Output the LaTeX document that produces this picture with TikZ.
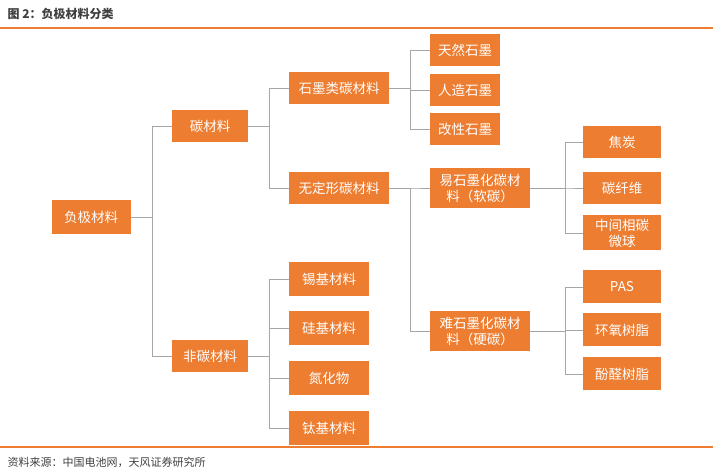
\documentclass[tikz,border=0pt]{standalone}
\usepackage{fontspec}
\setmainfont{Noto Sans CJK SC}
\begin{document}
\begin{tikzpicture}[x=1pt,y=-1pt,
 box/.style={fill=orgC,draw=none,text=white,font=\fontsize{13.5}{16}\selectfont,inner sep=0pt,align=center},
 conn/.style={draw=lineC,line width=0.9pt}]
\definecolor{orgC}{HTML}{ED7D31}
\definecolor{lineC}{HTML}{A6A6A6}
\definecolor{txtC}{HTML}{404040}
\useasboundingbox (0,0) rectangle (713,473);
\node[anchor=west,text=txtC,font=\bfseries\fontsize{12}{14}\selectfont] (title) at (4,14) {图 2：负极材料分类};
\draw[orgC,line width=1.2pt] (0,28) -- (713,28);
\draw[orgC,line width=1.2pt] (0,447) -- (713,447);
\node[anchor=west,text=txtC,font=\fontsize{11}{13}\selectfont] (src) at (4,462) {资料来源：中国电池网，天风证券研究所};
\newcommand{\bx}[6]{\node[box,minimum width=#4,minimum height=#5] (#1) at (#2,#3) {#6};}
\bx{root}{91}{217}{79}{34}{负极材料}
\bx{c}{210}{126}{76}{32}{碳材料}
\bx{nc}{210}{356}{76}{32}{非碳材料}
\bx{g}{339}{88}{100}{32}{石墨类碳材料}
\bx{a}{339}{188}{100}{32}{无定形碳材料}
\bx{g1}{465}{50}{70}{32}{天然石墨}
\bx{g2}{465}{90}{70}{32}{人造石墨}
\bx{g3}{465}{129}{70}{32}{改性石墨}
\bx{s}{480}{188}{100}{40}{易石墨化碳材\\料（软碳）}
\bx{h}{480}{331}{100}{40}{难石墨化碳材\\料（硬碳）}
\bx{s1}{622}{142}{78}{32}{焦炭}
\bx{s2}{622}{188}{78}{32}{碳纤维}
\bx{s3}{622}{233}{78}{35}{中间相碳\\微球}
\bx{h1}{622}{287}{78}{33}{PAS}
\bx{h2}{622}{330}{78}{33}{环氧树脂}
\bx{h3}{622}{374}{78}{33}{酚醛树脂}
\bx{n1}{329}{279}{80}{34}{锡基材料}
\bx{n2}{329}{328}{80}{34}{硅基材料}
\bx{n3}{329}{378}{80}{34}{氮化物}
\bx{n4}{329}{428}{80}{34}{钛基材料}
\coordinate (b1) at (152,0);
\coordinate (b2) at (269,0);
\coordinate (b3) at (410,0);
\coordinate (b4) at (565,0);
\foreach \p/\k/\b in {root/c/b1,root/nc/b1,c/g/b2,c/a/b2,nc/n1/b2,nc/n2/b2,nc/n3/b2,nc/n4/b2,g/g1/b3,g/g2/b3,g/g3/b3,a/s/b3,a/h/b3,s/s1/b4,s/s2/b4,s/s3/b4,h/h1/b4,h/h2/b4,h/h3/b4}
  \draw[conn] (\p.east) -- (\p.east -| \b) |- (\k.west);
\end{tikzpicture}
\end{document}
